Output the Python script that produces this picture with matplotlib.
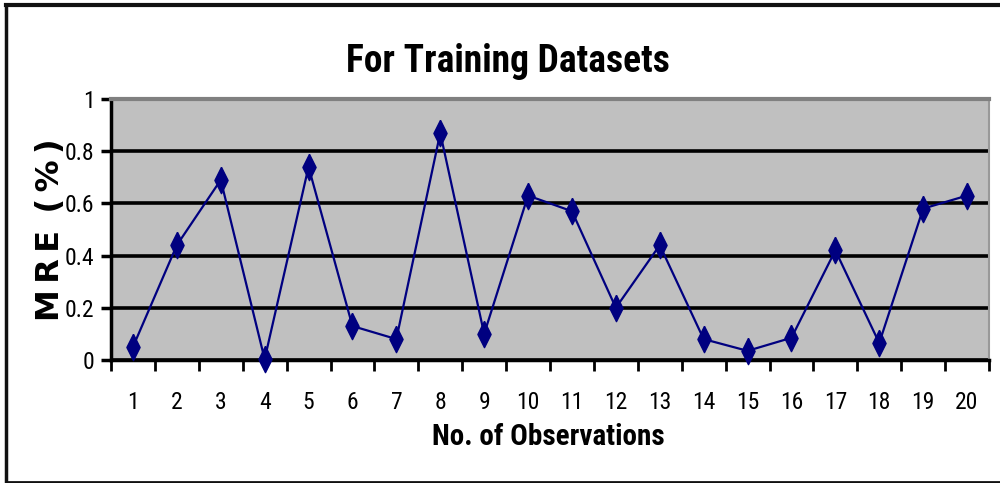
import matplotlib
matplotlib.use("Agg")
import matplotlib.pyplot as plt
from matplotlib.lines import Line2D
from matplotlib.ticker import FixedLocator, NullFormatter

# Observation numbers and mean relative error values
observations = list(range(1, 21))
mre_values = [0.05, 0.44, 0.69, 0.003, 0.74, 0.13, 0.08, 0.87, 0.10, 0.63,
              0.57, 0.20, 0.44, 0.08, 0.035, 0.085, 0.42, 0.065, 0.58, 0.63]
y_ticks = [0, 0.2, 0.4, 0.6, 0.8, 1]
y_tick_labels = ["0", "0.2", "0.4", "0.6", "0.8", "1"]

title_text = "For Training Datasets"
x_label_text = "No. of Observations"
y_label_text = "M\u2009R\u2009E\u2009 (\u2009%\u2009)"

narrow = ["Roboto Condensed", "Noto Sans Condensed", "Open Sans Condensed",
          "Liberation Sans Narrow", "Noto Sans", "DejaVu Sans"]
navy = "#000080"

fig = plt.figure(figsize=(10, 4.83), dpi=100)
ax = fig.add_axes([0.111, 0.2547, 0.878, 0.5403])
ax.set_facecolor("#C0C0C0")

# horizontal gridlines
for yv in y_ticks[:-1]:
    ax.axhline(yv, color="black", lw=2.6, zorder=1)

# diamond marker: twice as tall as wide
diamond = [(0, 1), (0.5, 0), (0, -1), (-0.5, 0), (0, 1)]
ax.plot(observations, mre_values, color=navy, lw=1.6, zorder=3,
        marker=diamond, markersize=19, markerfacecolor=navy,
        markeredgecolor=navy, clip_on=False)

ax.set_xlim(0.5, 20.5)
ax.set_ylim(0, 1)

# category axis: ticks on boundaries, labels centred in each slot
ax.xaxis.set_major_locator(FixedLocator([i + 0.5 for i in range(0, 21)]))
ax.xaxis.set_major_formatter(NullFormatter())
ax.xaxis.set_minor_locator(FixedLocator(observations))
ax.set_xticklabels([str(o) for o in observations], minor=True,
                   fontsize=17, family=narrow, fontstretch="condensed")
ax.tick_params(axis="x", which="major", direction="out", length=8,
               width=2, color="black")
ax.tick_params(axis="x", which="minor", length=0, pad=22)

ax.set_yticks(y_ticks)
ax.set_yticklabels(y_tick_labels, fontsize=17, family=narrow,
                   fontstretch="condensed")
ax.tick_params(axis="y", direction="out", length=7, width=2.5,
               color="black", pad=5)

for side in ("left", "bottom"):
    ax.spines[side].set_color("black")
    ax.spines[side].set_linewidth(2.5)
ax.spines["top"].set_color("#808080")
ax.spines["top"].set_linewidth(3)
ax.spines["right"].set_color("#999999")
ax.spines["right"].set_linewidth(1.5)

fig.text(0.508, 0.872, title_text, ha="center", va="center",
         fontsize=27, fontweight="bold", family=narrow, fontstretch="condensed")
fig.text(0.548, 0.095, x_label_text, ha="center", va="center",
         fontsize=21, fontweight="bold", family=narrow, fontstretch="condensed")
fig.text(0.051, 0.524, y_label_text, ha="center", va="center",
         rotation=90, fontsize=23, fontweight="bold",
         family=["DejaVu Sans"])

# outer chart frame (open on the right)
frame_color = "#111111"
fig.add_artist(Line2D([0.006, 0.006], [0.002, 0.99], transform=fig.transFigure,
                      color=frame_color, lw=2.5))
fig.add_artist(Line2D([0.006, 1.0], [0.99, 0.99], transform=fig.transFigure,
                      color=frame_color, lw=3))
fig.add_artist(Line2D([0.006, 1.0], [0.003, 0.003], transform=fig.transFigure,
                      color=frame_color, lw=2))

fig.savefig("out.png", dpi=100, facecolor="white")
